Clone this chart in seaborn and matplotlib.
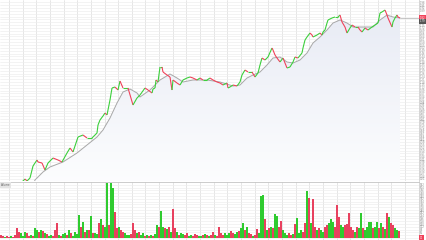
import numpy as np
import pandas as pd
import matplotlib
matplotlib.use("Agg")
import matplotlib.pyplot as plt
import seaborn as sns
from matplotlib.collections import LineCollection
from matplotlib.patches import Polygon

# ---------------- data ----------------
price_x = [0, 8, 15, 20, 25, 27, 30, 33, 35, 37, 38, 42, 45, 48, 53, 58, 62, 67, 70, 73,
           78, 83, 87, 92, 97, 98, 100, 103, 105, 107, 110, 112, 115, 118, 120, 123, 128,
           133, 137, 140, 145, 148, 152, 153, 155, 156, 158, 160, 162, 163, 167, 170, 172,
           173, 177, 180, 183, 187, 190, 193, 197, 200, 203, 207, 210, 213, 217, 220, 223,
           227, 228, 230, 233, 237, 240, 242, 245, 248, 252, 255, 258, 260, 262, 265, 268,
           272, 273, 275, 277, 280, 283, 287, 290, 293, 295, 298, 302, 303, 305, 307, 310,
           312, 313, 317, 320, 322, 323, 325, 327, 328, 332, 335, 338, 340, 342, 345, 347,
           350, 352, 355, 358, 360, 362, 365, 368, 372, 375, 378, 380, 382, 385, 387, 388,
           392, 393, 395, 397, 398, 400]
price = [5, 10, 12, 16, 21, 19, 22, 34, 37, 40, 38, 37, 30, 37, 42, 40, 38, 47, 52, 48,
         63, 65, 62, 62, 67, 75, 80, 84, 87, 85, 100, 112, 113, 110, 119, 112, 112,
         95, 102, 105, 112, 110, 107, 111, 112, 120, 118, 133, 133, 128, 125, 123, 110,
         120, 117, 115, 120, 122, 123, 122, 120, 122, 120, 120, 122, 120, 118, 117, 115,
         117, 112, 113, 115, 114, 118, 125, 130, 128, 128, 123, 127, 135, 142, 140, 143,
         152, 150, 145, 142, 138, 142, 132, 133, 138, 143, 142, 147, 152, 160, 163, 167,
         165, 163, 165, 167, 165, 168, 170, 177, 180, 182, 183, 183, 185, 178, 173, 167,
         172, 175, 173, 173, 170, 168, 172, 170, 173, 175, 177, 187, 188, 190, 185, 182,
         173, 178, 182, 185, 183, 182]

ma_x = [20, 33, 35, 43, 50, 63, 77, 87, 97, 103, 110, 117, 123, 130, 137, 140, 150, 160,
        170, 177, 183, 193, 207, 220, 233, 240, 247, 253, 260, 267, 273, 280, 287, 293,
        300, 307, 313, 320, 327, 333, 340, 347, 353, 360, 367, 373, 380, 387, 393, 400]
ma = [5, 15, 20, 28, 33, 38, 47, 55, 63, 70, 82, 97, 108, 111, 107, 103, 110, 120,
      126, 122, 118, 120, 120, 118, 114, 115, 122, 125, 128, 135, 142, 143, 138, 137,
      140, 147, 157, 163, 170, 177, 180, 177, 173, 173, 173, 173, 180, 185, 183, 182]

vol_x = list(range(0, 400, 2))
vol = [3, 2, 1, 2, 1, 2, 1, 3, 10, 6, 5, 2, 6, 5, 2, 3, 2, 10, 8, 6,
       8, 7, 5, 4, 2, 3, 2, 8, 15, 3, 2, 4, 5, 3, 8, 5, 2, 6, 4, 23,
       11, 16, 6, 8, 8, 22, 5, 5, 4, 15, 19, 13, 11, 55, 13, 55, 50, 26, 10, 11,
       8, 6, 5, 3, 3, 4, 15, 8, 5, 6, 3, 5, 2, 3, 2, 3, 2, 4, 13, 11,
       27, 11, 10, 9, 11, 6, 29, 10, 6, 3, 5, 4, 3, 5, 2, 3, 2, 4, 3, 2,
       2, 3, 4, 3, 2, 3, 6, 3, 2, 11, 5, 3, 5, 3, 5, 7, 5, 4, 6, 7,
       10, 15, 8, 11, 5, 4, 2, 3, 9, 5, 42, 43, 19, 8, 10, 11, 10, 24, 22, 11,
       17, 8, 5, 3, 5, 3, 4, 14, 20, 5, 8, 6, 15, 47, 40, 15, 39, 11, 8, 10,
       8, 6, 11, 13, 15, 19, 16, 11, 33, 21, 13, 11, 13, 14, 25, 11, 8, 6, 11, 10,
       25, 10, 8, 11, 16, 16, 10, 11, 16, 10, 15, 11, 9, 25, 21, 15, 13, 10, 8, 7]
# direction per bar (u = up / green, d = down / red)
vol_dir = ['d', 'd', 'u', 'd', 'd', 'u', 'd', 'd', 'd', 'd', 'u', 'u', 'u', 'd', 'd', 'u', 'd', 'u', 'u', 'd',
           'u', 'd', 'u', 'd', 'u', 'u', 'd', 'd', 'd', 'u', 'd', 'u', 'u', 'd', 'u', 'd', 'u', 'u', 'u', 'u',
           'd', 'u', 'd', 'u', 'd', 'u', 'd', 'u', 'u', 'd', 'u', 'd', 'u', 'u', 'd', 'u', 'u', 'd', 'd', 'u',
           'd', 'd', 'u', 'u', 'u', 'd', 'd', 'd', 'u', 'd', 'u', 'u', 'd', 'u', 'd', 'u', 'd', 'u', 'u', 'd',
           'u', 'u', 'd', 'u', 'd', 'u', 'd', 'd', 'u', 'd', 'u', 'u', 'd', 'd', 'u', 'u', 'd', 'd', 'd', 'u',
           'u', 'd', 'u', 'd', 'u', 'd', 'd', 'u', 'd', 'd', 'd', 'd', 'u', 'u', 'u', 'd', 'd', 'u', 'u', 'd',
           'u', 'u', 'd', 'u', 'd', 'd', 'u', 'd', 'd', 'u', 'u', 'u', 'd', 'u', 'd', 'u', 'd', 'u', 'u', 'd',
           'd', 'u', 'u', 'u', 'd', 'd', 'u', 'd', 'u', 'u', 'u', 'd', 'd', 'u', 'd', 'u', 'd', 'd', 'u', 'd',
           'u', 'u', 'd', 'd', 'u', 'u', 'u', 'd', 'd', 'd', 'u', 'u', 'd', 'd', 'd', 'd', 'd', 'u', 'd', 'u',
           'u', 'd', 'u', 'u', 'u', 'u', 'd', 'u', 'u', 'd', 'u', 'd', 'u', 'd', 'u', 'd', 'd', 'u', 'u', 'd']

last_price = price[-1]
last_ma = ma[-1]

GREEN = "#3ccf3c"
RED = "#f0425a"
VGREEN = "#2fcb2f"
VRED = "#e8415f"

# ---------------- figure ----------------
sns.set_style("white")
plt.rcParams["font.family"] = ["DejaVu Sans"]
W, H = 427, 240
fig = plt.figure(figsize=(W / 100, H / 100), dpi=100)
fig.patch.set_facecolor("white")

axw = 419 / W
ax = fig.add_axes([0, 59 / H, axw, 181 / H])
axv = fig.add_axes([0, 0, axw, 58 / H])

XMAX = 419
grid_x = [9 + 13.65 * k for k in range(30)]

for a in (ax, axv):
    a.set_xlim(0, XMAX)
    a.set_facecolor("white")
    for s in ("top", "left", "bottom"):
        a.spines[s].set_visible(False)
    a.spines["right"].set_color("#cfcfcf")
    a.spines["right"].set_linewidth(0.6)
    a.set_xticks(grid_x)
    a.tick_params(axis="x", length=0, labelbottom=False)
    a.yaxis.tick_right()
    a.tick_params(axis="y", length=0, labelsize=1.8, colors="#8a8a8a", pad=0.6)
    for gx in grid_x:
        a.axvline(gx, color="#dcdcdc", lw=0.5, zorder=0)

# price panel
ax.set_ylim(19, 200)
yt = np.arange(21, 200, 2.85)
ax.set_yticks(yt)
ax.set_yticklabels(["" if abs(v - last_price) < 6 else f"{v / 100:.2f}" for v in yt])
for yv in yt:
    ax.axhline(yv, color="#ededed", lw=0.45, zorder=0)

# gradient fill under MA
poly_pts = [(ma_x[0], 0)] + list(zip(ma_x, ma)) + [(ma_x[-1], 0)]
poly = Polygon(poly_pts, closed=True, facecolor="none", edgecolor="none")
ax.add_patch(poly)
grad = np.linspace(0, 1, 256).reshape(-1, 1)
top_c = np.array([0.905, 0.918, 0.957])
bot_c = np.array([0.99, 0.992, 0.997])
img = top_c[None, None, :] * (1 - grad[:, :, None]) + bot_c[None, None, :] * grad[:, :, None]
im = ax.imshow(img, extent=[0, 400, 19, 200], origin="upper", aspect="auto", zorder=1)
im.set_clip_path(poly)

# MA line
sns.lineplot(x=ma_x, y=ma, ax=ax, color="#a8a8a8", lw=0.7, zorder=3, legend=False)

# price line coloured by direction
pts = np.column_stack([price_x, price])
segs = np.stack([pts[:-1], pts[1:]], axis=1)
cols = [GREEN if price[i + 1] >= price[i] else RED for i in range(len(price) - 1)]
lc = LineCollection(segs, colors=cols, linewidths=0.8, zorder=4)
ax.add_collection(lc)

# last price line and labels
ax.plot([price_x[-1], XMAX], [last_price, last_price], color="#b0b0b0", lw=0.5, zorder=3)
ax.text(1.002, last_price, f"{last_price / 100:.2f}", transform=ax.get_yaxis_transform(),
        fontsize=1.8, color="white", va="center", ha="left", clip_on=False,
        bbox=dict(boxstyle="square,pad=0.25", fc=RED, ec="none"))
ax.text(1.002, last_ma - 3.5, f"{last_ma / 100 - 0.03:.2f}", transform=ax.get_yaxis_transform(),
        fontsize=1.8, color="white", va="center", ha="left", clip_on=False,
        bbox=dict(boxstyle="square,pad=0.25", fc="#555555", ec="none"))

# volume panel
axv.set_ylim(-2, 56)
vt = np.arange(0, 56, 2.8)
axv.set_yticks(vt)
axv.set_yticklabels(["" if v < 4 else f"{v * 10:.0f}" for v in vt])
for yv in vt:
    axv.axhline(yv, color="#ededed", lw=0.45, zorder=0)
axv.spines["top"].set_visible(True)
axv.spines["top"].set_color("#c4c4c4")
axv.spines["top"].set_linewidth(0.6)
vcols = [VGREEN if d == "u" else VRED for d in vol_dir]
axv.bar(vol_x, vol, width=1.7, color=vcols, linewidth=0, align="edge", zorder=2)
axv.text(1.002, 0, f"{vol[-1] * 10}", transform=axv.get_yaxis_transform(),
         fontsize=1.8, color="white", va="center", ha="left", clip_on=False,
         bbox=dict(boxstyle="square,pad=0.25", fc=RED, ec="none"))
axv.text(0.002, 0.985, "Volume", transform=axv.transAxes, fontsize=1.8, color="#555555",
         va="top", ha="left", bbox=dict(boxstyle="square,pad=0.3", fc="#e4e4e4", ec="none"))

fig.savefig("out.png", dpi=100, facecolor="white")
